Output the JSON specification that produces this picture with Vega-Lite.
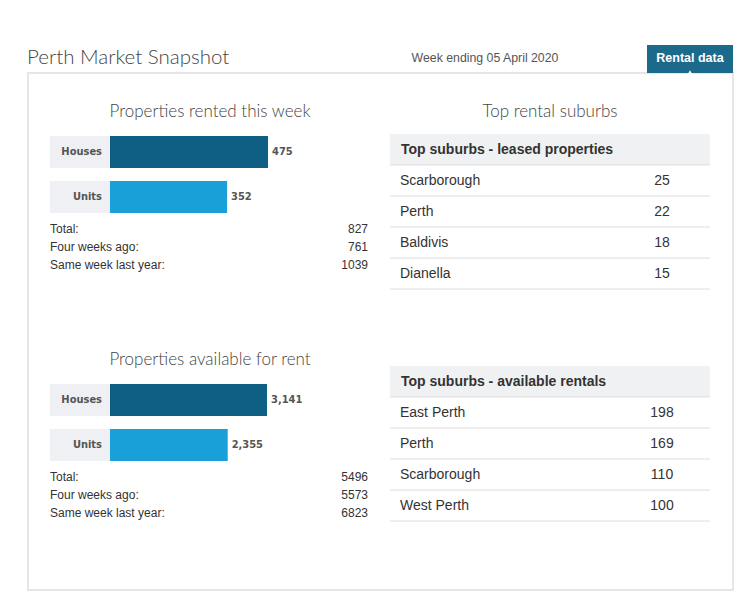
{
  "$schema": "https://vega.github.io/schema/vega-lite/v6.json",
  "width": 705,
  "height": 517,
  "autosize": {"type": "none"},
  "padding": {"left": 28, "top": 73, "right": 14, "bottom": 18},
  "background": "white",
  "config": {"view": {"stroke": "#e6e6e6", "strokeWidth": 2}},
  "datasets": {
    "bars": [
      {"panel": "rented", "type": "Houses", "value": 475},
      {"panel": "rented", "type": "Units", "value": 352},
      {"panel": "available", "type": "Houses", "value": 3141},
      {"panel": "available", "type": "Units", "value": 2355}
    ],
    "summary": [
      {"panel": "rented", "label": "Total:", "value": 827},
      {"panel": "rented", "label": "Four weeks ago:", "value": 761},
      {"panel": "rented", "label": "Same week last year:", "value": 1039},
      {"panel": "available", "label": "Total:", "value": 5496},
      {"panel": "available", "label": "Four weeks ago:", "value": 5573},
      {"panel": "available", "label": "Same week last year:", "value": 6823}
    ],
    "suburbs": [
      {"table": "leased", "rank": "1", "suburb": "Scarborough", "count": 25},
      {"table": "leased", "rank": "2", "suburb": "Perth", "count": 22},
      {"table": "leased", "rank": "3", "suburb": "Baldivis", "count": 18},
      {"table": "leased", "rank": "4", "suburb": "Dianella", "count": 15},
      {"table": "available", "rank": "1", "suburb": "East Perth", "count": 198},
      {"table": "available", "rank": "2", "suburb": "Perth", "count": 169},
      {"table": "available", "rank": "3", "suburb": "Scarborough", "count": 110},
      {"table": "available", "rank": "4", "suburb": "West Perth", "count": 100}
    ],
    "tableHeaders": [
      {"table": "leased", "rank": "h", "heading": "Top suburbs - leased properties"},
      {"table": "available", "rank": "h", "heading": "Top suburbs - available rentals"}
    ],
    "titles": [
      {"title": "Properties rented this week"},
      {"title": "Top rental suburbs"},
      {"title": "Properties available for rent"}
    ],
    "pageTitle": [
      {"title": "Perth Market Snapshot"}
    ],
    "header": [
      {"item": "Week ending 05 April 2020"},
      {"item": "Rental data"}
    ]
  },
  "resolve": {"scale": {"x": "independent", "y": "independent", "color": "independent"}},
  "layer": [
    {
      "data": {"name": "pageTitle"},
      "mark": {"type": "text", "align": "left", "baseline": "alphabetic", "font": "Lato", "fontWeight": 300, "fontSize": 20.5, "color": "#444444"},
      "encoding": {
        "x": {"field": "title", "type": "nominal", "axis": null, "scale": {"type": "point", "domain": ["Perth Market Snapshot"], "range": [-1, -1]}},
        "y": {"field": "title", "type": "nominal", "axis": null, "scale": {"type": "point", "domain": ["Perth Market Snapshot"], "range": [-9, -9]}},
        "text": {"field": "title"}
      }
    },
    {
      "data": {"name": "header"},
      "encoding": {
        "x": {"field": "item", "type": "nominal", "axis": null, "scale": {"type": "band", "domain": ["Week ending 05 April 2020", "Rental data"], "range": [414, 705], "paddingInner": 0.5805, "paddingOuter": 0}},
        "y": {"datum": "tab", "type": "nominal", "axis": null, "scale": {"type": "band", "domain": ["tab"], "range": [-28, 0], "paddingInner": 0, "paddingOuter": 0}}
      },
      "layer": [
        {"transform": [{"filter": "datum.item === 'Rental data'"}], "mark": {"type": "rect", "fill": "#1c6a8b"}},
        {"transform": [{"filter": "datum.item === 'Rental data'"}], "mark": {"type": "point", "shape": "triangle-up", "filled": true, "color": "#ffffff", "opacity": 1, "size": 40},
         "encoding": {"y": {"datum": "tab", "type": "nominal", "axis": null, "bandPosition": 1}}},
        {"transform": [{"filter": "datum.item === 'Rental data'"}], "mark": {"type": "text", "font": "Liberation Sans Narrow, Liberation Sans", "fontWeight": "bold", "fontSize": 12.5, "color": "#ffffff", "dy": -1},
         "encoding": {"text": {"field": "item"}}},
        {"transform": [{"filter": "datum.item !== 'Rental data'"}], "mark": {"type": "text", "font": "Liberation Sans Narrow, Liberation Sans", "fontSize": 12.3, "color": "#555555", "dy": -1},
         "encoding": {"text": {"field": "item"}}}
      ]
    },
    {
      "data": {"name": "titles"},
      "transform": [{"filter": "datum.title !== 'Top rental suburbs'"}],
      "mark": {"type": "text", "font": "Lato", "fontWeight": 300, "fontSize": 17, "color": "#444444"},
      "encoding": {
        "x": {"field": "title", "type": "nominal", "axis": null, "scale": {"type": "point", "domain": ["Properties rented this week", "Properties available for rent"], "range": [182, 182]}},
        "y": {"field": "title", "type": "nominal", "axis": null, "scale": {"type": "point", "domain": ["Properties rented this week", "Properties available for rent"], "range": [39, 287], "padding": 0}},
        "text": {"field": "title"}
      }
    },
    {
      "data": {"name": "titles"},
      "transform": [{"filter": "datum.title === 'Top rental suburbs'"}],
      "mark": {"type": "text", "font": "Lato", "fontWeight": 300, "fontSize": 17, "color": "#444444"},
      "encoding": {
        "x": {"field": "title", "type": "nominal", "axis": null, "scale": {"type": "point", "domain": ["Top rental suburbs"], "range": [522, 522]}},
        "y": {"field": "title", "type": "nominal", "axis": null, "scale": {"type": "point", "domain": ["Top rental suburbs"], "range": [39, 39]}},
        "text": {"field": "title"}
      }
    },
    {
      "data": {"name": "bars"},
      "transform": [{"filter": "datum.panel === 'rented'"}],
      "encoding": {
        "y": {"field": "type", "type": "nominal", "axis": null, "scale": {"domain": ["Houses", "Units"], "range": [63, 140], "paddingInner": 0.289, "paddingOuter": 0}}
      },
      "layer": [
        {"mark": {"type": "rect", "fill": "#eef0f3"},
         "encoding": {"x": {"datum": -180.4, "type": "quantitative", "axis": null, "scale": {"domain": [-180.4, 775.6], "range": [22, 340], "zero": false, "nice": false}}, "x2": {"datum": 0}}},
        {"mark": {"type": "bar"},
         "encoding": {"x": {"field": "value", "type": "quantitative", "axis": null}, "color": {"field": "type", "type": "nominal", "legend": null, "scale": {"domain": ["Houses", "Units"], "range": ["#0f5f85", "#1aa0d8"]}}}},
        {"mark": {"type": "text", "align": "right", "dx": -8, "font": "DejaVu Sans Condensed, DejaVu Sans", "fontWeight": "bold", "fontSize": 11, "color": "#555555"},
         "encoding": {"x": {"datum": 0, "type": "quantitative", "axis": null}, "text": {"field": "type"}}},
        {"mark": {"type": "text", "align": "left", "dx": 4, "font": "DejaVu Sans Condensed, DejaVu Sans", "fontWeight": "bold", "fontSize": 11, "color": "#555555"},
         "encoding": {"x": {"field": "value", "type": "quantitative", "axis": null}, "text": {"field": "value", "type": "quantitative", "format": ","}}}
      ]
    },
    {
      "data": {"name": "bars"},
      "transform": [{"filter": "datum.panel === 'available'"}],
      "encoding": {
        "y": {"field": "type", "type": "nominal", "axis": null, "scale": {"domain": ["Houses", "Units"], "range": [311, 388], "paddingInner": 0.289, "paddingOuter": 0}}
      },
      "layer": [
        {"mark": {"type": "rect", "fill": "#eef0f3"},
         "encoding": {"x": {"datum": -1200.5, "type": "quantitative", "axis": null, "scale": {"domain": [-1200.5, 5162], "range": [22, 340], "zero": false, "nice": false}}, "x2": {"datum": 0}}},
        {"mark": {"type": "bar"},
         "encoding": {"x": {"field": "value", "type": "quantitative", "axis": null}, "color": {"field": "type", "type": "nominal", "legend": null, "scale": {"domain": ["Houses", "Units"], "range": ["#0f5f85", "#1aa0d8"]}}}},
        {"mark": {"type": "text", "align": "right", "dx": -8, "font": "DejaVu Sans Condensed, DejaVu Sans", "fontWeight": "bold", "fontSize": 11, "color": "#555555"},
         "encoding": {"x": {"datum": 0, "type": "quantitative", "axis": null}, "text": {"field": "type"}}},
        {"mark": {"type": "text", "align": "left", "dx": 4, "font": "DejaVu Sans Condensed, DejaVu Sans", "fontWeight": "bold", "fontSize": 11, "color": "#555555"},
         "encoding": {"x": {"field": "value", "type": "quantitative", "axis": null}, "text": {"field": "value", "type": "quantitative", "format": ","}}}
      ]
    },
    {
      "data": {"name": "summary"},
      "transform": [{"filter": "datum.panel === 'rented'"}],
      "encoding": {
        "y": {"field": "label", "type": "nominal", "axis": null, "scale": {"type": "point", "domain": ["Total:", "Four weeks ago:", "Same week last year:"], "range": [156, 192], "padding": 0}}
      },
      "layer": [
        {"mark": {"type": "text", "align": "left", "font": "Liberation Sans", "fontSize": 12, "color": "#333333"},
         "encoding": {"x": {"datum": 0, "type": "quantitative", "axis": null, "scale": {"domain": [0, 1], "range": [22, 340], "zero": false, "nice": false}}, "text": {"field": "label"}}},
        {"mark": {"type": "text", "align": "right", "font": "Liberation Sans", "fontSize": 12, "color": "#333333"},
         "encoding": {"x": {"datum": 1, "type": "quantitative", "axis": null}, "text": {"field": "value", "type": "quantitative", "format": "d"}}}
      ]
    },
    {
      "data": {"name": "summary"},
      "transform": [{"filter": "datum.panel === 'available'"}],
      "encoding": {
        "y": {"field": "label", "type": "nominal", "axis": null, "scale": {"type": "point", "domain": ["Total:", "Four weeks ago:", "Same week last year:"], "range": [404, 440], "padding": 0}}
      },
      "layer": [
        {"mark": {"type": "text", "align": "left", "font": "Liberation Sans", "fontSize": 12, "color": "#333333"},
         "encoding": {"x": {"datum": 0, "type": "quantitative", "axis": null, "scale": {"domain": [0, 1], "range": [22, 340], "zero": false, "nice": false}}, "text": {"field": "label"}}},
        {"mark": {"type": "text", "align": "right", "font": "Liberation Sans", "fontSize": 12, "color": "#333333"},
         "encoding": {"x": {"datum": 1, "type": "quantitative", "axis": null}, "text": {"field": "value", "type": "quantitative", "format": "d"}}}
      ]
    },
    {
      "data": {"name": "suburbs"},
      "transform": [{"filter": "datum.table === 'leased'"}],
      "encoding": {
        "y": {"field": "rank", "type": "nominal", "axis": null, "scale": {"type": "band", "domain": ["h", "1", "2", "3", "4"], "range": [61, 216], "paddingInner": 0, "paddingOuter": 0}}
      },
      "layer": [
        {"data": {"name": "tableHeaders"}, "transform": [{"filter": "datum.table === 'leased'"}],
         "mark": {"type": "rect", "fill": "#f0f1f3"},
         "encoding": {"x": {"datum": 0, "type": "quantitative", "axis": null, "scale": {"domain": [0, 1], "range": [362, 682], "zero": false, "nice": false}}, "x2": {"datum": 1}}},
        {"data": {"name": "tableHeaders"}, "transform": [{"filter": "datum.table === 'leased'"}],
         "mark": {"type": "text", "align": "left", "dx": 11, "font": "Liberation Sans", "fontWeight": "bold", "fontSize": 14, "color": "#333333"},
         "encoding": {"x": {"datum": 0, "type": "quantitative", "axis": null}, "text": {"field": "heading"}}},
        {"mark": {"type": "rule", "color": "#dddddd", "strokeWidth": 1},
         "encoding": {"y": {"field": "rank", "type": "nominal", "axis": null, "bandPosition": 0}, "x": {"datum": 0, "type": "quantitative", "axis": null}, "x2": {"datum": 1}}},
        {"transform": [{"filter": "datum.rank === '4'"}], "mark": {"type": "rule", "color": "#dddddd", "strokeWidth": 1},
         "encoding": {"y": {"field": "rank", "type": "nominal", "axis": null, "bandPosition": 1}, "x": {"datum": 0, "type": "quantitative", "axis": null}, "x2": {"datum": 1}}},
        {"mark": {"type": "text", "align": "left", "dx": 10, "font": "Liberation Sans", "fontSize": 14, "color": "#333333"},
         "encoding": {"x": {"datum": 0, "type": "quantitative", "axis": null}, "text": {"field": "suburb"}}},
        {"mark": {"type": "text", "align": "center", "font": "Liberation Sans", "fontSize": 14, "color": "#333333"},
         "encoding": {"x": {"datum": 0.85, "type": "quantitative", "axis": null}, "text": {"field": "count", "type": "quantitative", "format": "d"}}}
      ]
    },
    {
      "data": {"name": "suburbs"},
      "transform": [{"filter": "datum.table === 'available'"}],
      "encoding": {
        "y": {"field": "rank", "type": "nominal", "axis": null, "scale": {"type": "band", "domain": ["h", "1", "2", "3", "4"], "range": [293, 448], "paddingInner": 0, "paddingOuter": 0}}
      },
      "layer": [
        {"data": {"name": "tableHeaders"}, "transform": [{"filter": "datum.table === 'available'"}],
         "mark": {"type": "rect", "fill": "#f0f1f3"},
         "encoding": {"x": {"datum": 0, "type": "quantitative", "axis": null, "scale": {"domain": [0, 1], "range": [362, 682], "zero": false, "nice": false}}, "x2": {"datum": 1}}},
        {"data": {"name": "tableHeaders"}, "transform": [{"filter": "datum.table === 'available'"}],
         "mark": {"type": "text", "align": "left", "dx": 11, "font": "Liberation Sans", "fontWeight": "bold", "fontSize": 14, "color": "#333333"},
         "encoding": {"x": {"datum": 0, "type": "quantitative", "axis": null}, "text": {"field": "heading"}}},
        {"mark": {"type": "rule", "color": "#dddddd", "strokeWidth": 1},
         "encoding": {"y": {"field": "rank", "type": "nominal", "axis": null, "bandPosition": 0}, "x": {"datum": 0, "type": "quantitative", "axis": null}, "x2": {"datum": 1}}},
        {"transform": [{"filter": "datum.rank === '4'"}], "mark": {"type": "rule", "color": "#dddddd", "strokeWidth": 1},
         "encoding": {"y": {"field": "rank", "type": "nominal", "axis": null, "bandPosition": 1}, "x": {"datum": 0, "type": "quantitative", "axis": null}, "x2": {"datum": 1}}},
        {"mark": {"type": "text", "align": "left", "dx": 10, "font": "Liberation Sans", "fontSize": 14, "color": "#333333"},
         "encoding": {"x": {"datum": 0, "type": "quantitative", "axis": null}, "text": {"field": "suburb"}}},
        {"mark": {"type": "text", "align": "center", "font": "Liberation Sans", "fontSize": 14, "color": "#333333"},
         "encoding": {"x": {"datum": 0.85, "type": "quantitative", "axis": null}, "text": {"field": "count", "type": "quantitative", "format": "d"}}}
      ]
    }
  ]
}
